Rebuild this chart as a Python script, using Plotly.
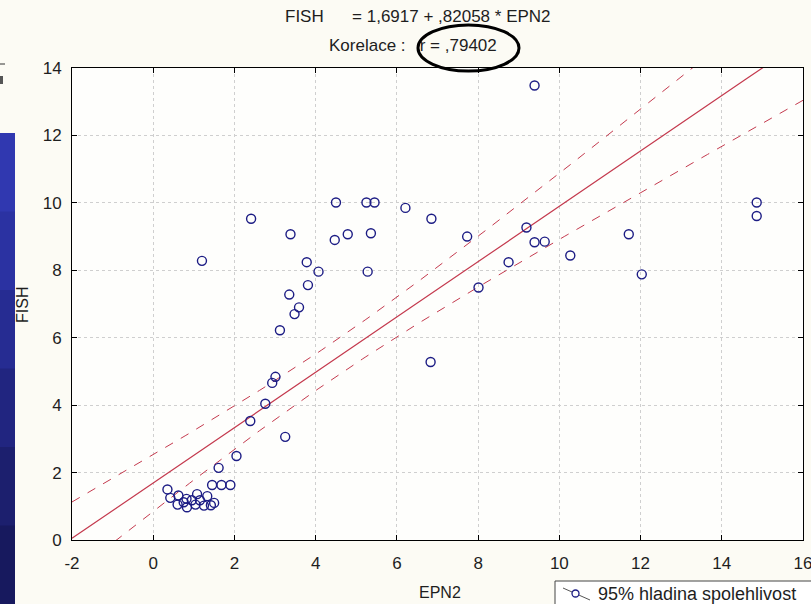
import numpy as np
import plotly.graph_objects as go

# ---- data ----
epn2 = [0.35, 0.42, 0.62, 0.82, 1.08, 1.33, 1.50, 0.60, 0.83, 1.04, 1.25, 1.42,
        0.95, 1.15, 0.75, 1.45, 1.68, 1.90, 1.61, 2.05, 2.39, 3.25, 2.76, 3.01,
        2.93, 3.12, 3.48, 3.59, 3.35, 3.81, 4.07, 5.28, 3.78, 1.20, 2.41, 3.38,
        4.50, 5.25, 5.45, 6.21, 6.85, 4.47, 4.79, 5.36, 6.83, 7.73, 8.01, 8.75,
        9.19, 9.39, 9.64, 10.27, 11.71, 12.03, 9.39, 14.86, 14.86]
fish = [1.50, 1.25, 1.32, 1.22, 1.36, 1.30, 1.10, 1.05, 0.97, 1.05, 1.02, 1.03,
        1.18, 1.18, 1.12, 1.63, 1.63, 1.63, 2.14, 2.49, 3.53, 3.06, 4.04, 4.84,
        4.66, 6.22, 6.70, 6.90, 7.28, 7.56, 7.96, 7.96, 8.24, 8.28, 9.53, 9.07,
        10.01, 10.01, 10.01, 9.85, 9.53, 8.90, 9.07, 9.10, 5.28, 9.00, 7.49, 8.24,
        9.27, 8.83, 8.85, 8.44, 9.07, 7.88, 13.48, 10.01, 9.61]
intercept = 1.6917
slope = 0.82058
x_ticks = [-2, 0, 2, 4, 6, 8, 10, 12, 14, 16]
x_ticktext = ["-2", "0", "2", "4", "6", "8", "10", "12", "14", "16"]
y_ticks = [0, 2, 4, 6, 8, 10, 12, 14]

# ---- regression line and confidence band ----
x = np.array(epn2)
y = np.array(fish)
n = len(x)
resid = y - (intercept + slope * x)
s = np.sqrt(np.sum(resid ** 2) / (n - 2))
xbar = x.mean()
sxx = np.sum((x - xbar) ** 2)
xl = np.linspace(-2, 16, 200)
yl = intercept + slope * xl
t_crit = 1.6
hw = t_crit * s * np.sqrt(1.0 / n + (xl - xbar) ** 2 / sxx)

RED = "#c43a4e"
NAVY = "#1c1c84"
FONT = "Liberation Sans, Arial, sans-serif"
TXT = "#1e1e1e"

fig = go.Figure()
fig.add_trace(go.Scatter(x=xl, y=yl + hw, mode="lines",
                         line=dict(color=RED, width=1, dash="dash"), hoverinfo="skip"))
fig.add_trace(go.Scatter(x=xl, y=yl - hw, mode="lines",
                         line=dict(color=RED, width=1, dash="dash"), hoverinfo="skip"))
fig.add_trace(go.Scatter(x=xl, y=yl, mode="lines",
                         line=dict(color=RED, width=1.2), hoverinfo="skip"))
fig.add_trace(go.Scatter(x=epn2, y=fish, mode="markers",
                         marker=dict(symbol="circle-open", size=9, color=NAVY,
                                     line=dict(width=1.4, color=NAVY))))

W, H = 811, 604
L, R, T, B = 72, 8, 68, 64
pw, ph = W - L - R, H - T - B


def px(xp):
    return (xp - L) / pw


def py(yp):
    return (H - B - yp) / ph


axis_common = dict(showline=True, linecolor="black", linewidth=1, mirror="ticks",
                   ticks="inside", ticklen=5, tickcolor="black",
                   showgrid=True, gridcolor="#cfcfcf", griddash="dot", gridwidth=1,
                   zeroline=False, ticklabeloverflow="allow", automargin=False,
                   tickfont=dict(size=17, color=TXT, family=FONT))

fig.update_layout(
    width=W, height=H,
    margin=dict(l=L, r=R, t=T, b=B, autoexpand=False),
    paper_bgcolor="#fcfbf4",
    plot_bgcolor="#fefefc",
    showlegend=False,
    font=dict(family=FONT, color=TXT),
    xaxis=dict(range=[-2, 16], tickvals=x_ticks, ticktext=x_ticktext,
               ticklabelstandoff=8, **axis_common),
    yaxis=dict(range=[0, 14], tickvals=y_ticks, ticklabelstandoff=6, **axis_common),
)

annotations = [
    dict(x=px(283), y=py(17), xref="paper", yref="paper", xanchor="left", yanchor="middle",
         text="FISH&nbsp;&nbsp;&nbsp;&nbsp;&nbsp;&nbsp;= 1,6917 + ,82058 * EPN2", showarrow=False,
         font=dict(size=17, family=FONT, color=TXT)),
    dict(x=px(327), y=py(46), xref="paper", yref="paper", xanchor="left", yanchor="middle",
         text="Korelace :&nbsp;&nbsp;&nbsp;r = ,79402", showarrow=False,
         font=dict(size=17, family=FONT, color=TXT)),
    dict(x=px(440), y=py(592), xref="paper", yref="paper", xanchor="center", yanchor="middle",
         text="EPN2", showarrow=False, font=dict(size=16, family=FONT, color=TXT)),
    dict(x=px(22), y=py(305), xref="paper", yref="paper", xanchor="center", yanchor="middle",
         text="FISH", showarrow=False, textangle=-90,
         font=dict(size=16, family=FONT, color=TXT)),
    dict(x=px(596), y=py(594), xref="paper", yref="paper", xanchor="left", yanchor="middle",
         text="95% hladina spolehlivost", showarrow=False,
         font=dict(size=18, family=FONT, color=TXT)),
]
fig.update_layout(annotations=annotations)

shapes = []
# left decorative blue strip (slide background)
blues = ["#3038b0", "#2b32a2", "#262c92", "#212580", "#1c1f6e", "#17195e"]
y0 = 133
step = (604 - 133) / len(blues)
for i, c in enumerate(blues):
    shapes.append(dict(type="rect", xref="paper", yref="paper",
                       x0=px(0), x1=px(15), y0=py(y0 + i * step), y1=py(y0 + (i + 1) * step + 1),
                       fillcolor=c, line=dict(width=0), layer="above"))
shapes.append(dict(type="line", xref="paper", yref="paper", x0=px(0), x1=px(5),
                   y0=py(64), y1=py(64), line=dict(color="#333", width=1)))
shapes.append(dict(type="rect", xref="paper", yref="paper", x0=px(0), x1=px(3),
                   y0=py(84), y1=py(76), fillcolor="#555", line=dict(width=0)))
# hand-drawn ellipse around r
shapes.append(dict(type="circle", xref="paper", yref="paper",
                   x0=px(418), x1=px(519), y0=py(71), y1=py(25),
                   line=dict(color="black", width=3)))
# legend box
shapes.append(dict(type="rect", xref="paper", yref="paper",
                   x0=px(555), x1=px(830), y0=py(581), y1=py(620),
                   fillcolor="#ffffff", line=dict(color="#444", width=1), layer="below"))
shapes.append(dict(type="line", xref="paper", yref="paper",
                   x0=px(563), x1=px(590), y0=py(588), y1=py(600),
                   line=dict(color="#555", width=1)))
shapes.append(dict(type="circle", xref="paper", yref="paper",
                   x0=px(572), x1=px(579), y0=py(597), y1=py(590),
                   fillcolor="#ffffff", line=dict(color=NAVY, width=1.3)))
fig.update_layout(shapes=shapes)

fig.write_html("out.html")
